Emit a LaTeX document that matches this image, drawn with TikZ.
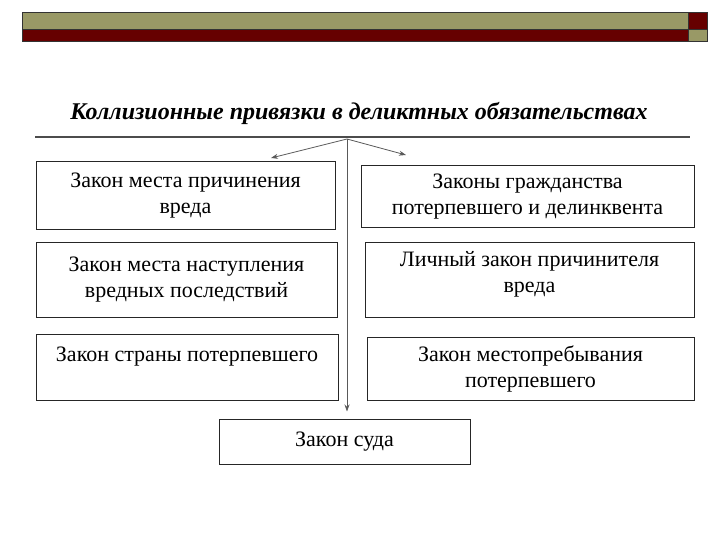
\documentclass[tikz,border=0pt]{standalone}
\usepackage{fontspec}
\setmainfont{Liberation Serif}
\usetikzlibrary{arrows.meta}
\definecolor{olive}{HTML}{999966}
\definecolor{darkred}{HTML}{660000}
\begin{document}
\begin{tikzpicture}[x=1pt,y=-1pt,
  box/.style={draw=black!85,line width=1pt,inner sep=0pt,align=center,
    font=\fontsize{22}{26}\selectfont},
  bar/.style={draw=black!80,line width=0.8pt},
  conn/.style={draw=black!65,line width=0.8pt},
  arr/.style={conn,-{Stealth[length=7pt,width=5pt]}}]
\useasboundingbox (0,0) rectangle (720,540);
% top decoration
\fill[olive] (22,12) rectangle (688,29);
\fill[darkred] (22,29) rectangle (688,41);
\fill[darkred] (688,12) rectangle (707,29);
\fill[olive] (688,29) rectangle (707,41);
\draw[bar] (22,12) rectangle (688,29);
\draw[bar] (22,29) rectangle (688,41);
\draw[bar] (688,12) rectangle (707,29);
\draw[bar] (688,29) rectangle (707,41);
% title
\node[font=\fontsize{24}{28}\selectfont\bfseries\itshape] (title) at (359,113)
  {Коллизионные привязки в деликтных обязательствах};
\coordinate (lineL) at (35,137);
\coordinate (lineR) at (690,137);
\draw[draw=black!70,line width=1.6pt] (lineL) -- (lineR);
\coordinate (apex) at (347,139);
\coordinate (tipL) at (271,158);
\coordinate (tipR) at (406,155);
% boxes
\node[box,minimum width=299,minimum height=68] (l1) at (185.5,196) {Закон места причинения\\вреда};
\node[box,minimum width=301,minimum height=75] (l2) at (186.5,279.5) {Закон места наступления\\вредных последствий};
\node[box,minimum width=302,minimum height=66] (l3) at (187,367) {Закон страны потерпевшего\\\mbox{}};
\node[box,minimum width=333,minimum height=62] (r1) at (527.5,197) {Законы гражданства\\потерпевшего и делинквента};
\node[box,minimum width=329,minimum height=75] (r2) at (529.5,279.5) {Личный закон причинителя\\вреда\\[-11pt]\mbox{}};
\node[box,minimum width=327,minimum height=63] (r3) at (530.5,368.5) {Закон местопребывания\\потерпевшего};
\node[box,minimum width=251,minimum height=45] (court) at (344.5,441.5) {Закон суда};
% connectors
\draw[arr] (apex) -- (tipL);
\draw[arr] (apex) -- (tipR);
\draw[arr,shorten >=7pt] (apex) -- (apex |- court.north);
\end{tikzpicture}
\end{document}
